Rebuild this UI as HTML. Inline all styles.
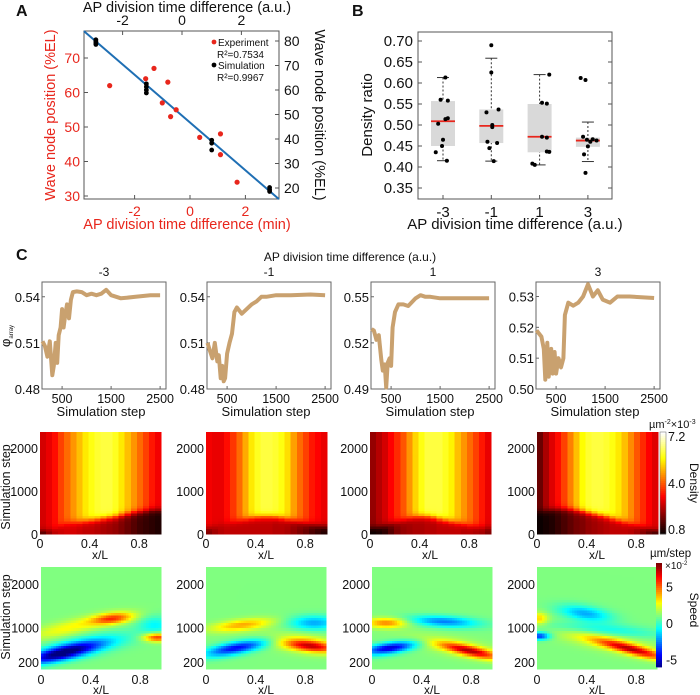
<!DOCTYPE html>
<html><head><meta charset="utf-8"><style>
html,body{margin:0;padding:0;background:#fff;}
svg{display:block;font-family:"Liberation Sans",Arial,sans-serif;}
</style></head><body>
<svg id="fig" width="700" height="695" viewBox="0 0 700 695" xmlns="http://www.w3.org/2000/svg"></svg>
<script>
// ---------- Panel A data ----------
const expX = [-2.9,-1.6,-1.3,-0.8,-1.0,-0.5,-0.7,0.35,1.1,1.1,1.7];
const expY = [62,64,67,63,57,55,53,47,48,42,34];
const simX = [-2.9,-2.9,-2.9,-2.9,-1.2,-1.2,-1.2,-1.2,1.0,1.0,1.0,2.95,2.95,2.95];
const simY = [80.5,79.8,79.2,78.6,62.5,61.3,60,58.8,39.5,38.3,35.5,20.2,19.3,18.6];
const fitCoef = [51.3,-6.92];
const aLeftTicks = [30,40,50,60,70];
const aRightTicks = [20,30,40,50,60,70,80];
const aBottomTicks = [-2,0,2];
const aTopTicks = [-2,0,2];
// ---------- Panel B data ----------
const bCats = ["-3","-1","1","3"];
const bQ1 = [0.450,0.457,0.435,0.448];
const bQ3 = [0.557,0.537,0.550,0.470];
const bMed = [0.509,0.498,0.472,0.463];
const bLo = [0.415,0.414,0.405,0.413];
const bHi = [0.613,0.659,0.620,0.507];
const bPts = [
 [0.613,0.560,0.558,0.516,0.514,0.503,0.465,0.450,0.435,0.415],
 [0.690,0.625,0.537,0.530,0.500,0.495,0.460,0.457,0.445,0.414],
 [0.620,0.553,0.551,0.472,0.470,0.437,0.436,0.408,0.405],
 [0.612,0.607,0.472,0.466,0.465,0.463,0.460,0.449,0.430,0.386]];
const bJit = [
 [0.05,-0.05,0.1,0.1,0.05,-0.1,0.0,-0.02,-0.15,0.08],
 [0.0,0.0,0.15,-0.1,0.02,0.02,-0.08,0.12,-0.04,0.05],
 [0.2,0.05,0.15,0.05,0.15,0.15,0.2,-0.15,-0.1],
 [-0.15,-0.05,-0.1,0.1,-0.02,0.18,0.05,0.0,-0.08,-0.05]];
const bTicks = [0.35,0.40,0.45,0.50,0.55,0.60,0.65,0.70];
// ---------- Panel C line data ----------
const lineTitles = ["-3","-1","1","3"];
const l1S = [100,150,200,250,300,330,370,400,430,470,500,530,560,600,640,680,720,800,900,1000,1100,1200,1300,1400,1500,1700,2000,2300,2500];
const l1V = [0.511,0.508,0.501,0.511,0.489,0.495,0.510,0.497,0.515,0.520,0.532,0.520,0.527,0.535,0.526,0.538,0.543,0.5435,0.543,0.541,0.542,0.541,0.542,0.5445,0.541,0.539,0.540,0.541,0.541];
const l2S = [100,150,200,250,300,330,370,400,430,460,500,550,600,650,700,800,900,1000,1100,1200,1300,1500,1800,2200,2500];
const l2V = [0.510,0.505,0.500,0.510,0.498,0.502,0.487,0.495,0.485,0.487,0.503,0.510,0.516,0.530,0.533,0.529,0.532,0.535,0.537,0.540,0.540,0.541,0.541,0.5415,0.541];
const l3S = [100,150,200,250,300,330,370,400,430,470,500,530,580,650,750,850,1000,1100,1200,1300,1500,1800,2200,2500];
const l3V = [0.529,0.528,0.522,0.525,0.509,0.502,0.506,0.491,0.507,0.510,0.505,0.530,0.540,0.545,0.545,0.544,0.549,0.551,0.550,0.550,0.549,0.549,0.549,0.549];
const l4S = [100,200,250,280,320,350,400,430,470,500,550,600,650,680,750,850,950,1050,1150,1250,1350,1450,1600,1750,2000,2500];
const l4V = [0.519,0.517,0.513,0.503,0.515,0.504,0.513,0.505,0.512,0.505,0.510,0.507,0.510,0.524,0.528,0.527,0.528,0.530,0.534,0.530,0.532,0.529,0.528,0.530,0.530,0.5295];
const lYTicks = [[0.48,0.51,0.54],[0.48,0.51,0.54],[0.49,0.52,0.55],[0.50,0.51,0.52,0.53]];
const lYMin = [0.48,0.48,0.49,0.50];
const lYMax = [0.5496,0.5496,0.5596,0.5347];
const lXTicks = [500,1500,2500];
// ---------- Density heatmaps (20 columns along x/L) ----------
const d1Above=[2.8,3.0,3.3,3.8,4.2,4.6,5.0,5.4,5.7,5.9,6.0,6.0,5.8,5.4,5.0,4.6,4.2,3.8,3.4,3.1];
const d1Front=[60,90,120,200,250,270,280,300,320,340,360,380,400,430,460,490,510,530,550,550];
const d1Below=[1.2,2.0,2.5,2.7,2.8,2.8,2.7,2.6,2.6,2.5,2.4,2.3,2.2,2.0,1.8,1.6,1.4,1.3,1.2,1.1];
const d2Above=[3.1,3.0,3.0,3.3,3.7,4.2,4.8,5.4,5.8,6.0,6.0,5.9,5.7,5.3,4.7,4.2,3.8,3.4,3.2,3.0];
const d2Front=[150,180,220,250,280,310,340,370,390,400,400,390,370,340,310,280,250,220,200,180];
const d2Below=[2.0,2.3,2.5,2.6,2.6,2.6,2.6,2.6,2.6,2.6,2.6,2.5,2.5,2.4,2.2,2.0,1.8,1.5,1.3,1.1];
const d3Above=[2.2,2.5,2.8,3.2,3.6,4.0,4.6,5.2,5.7,6.0,6.0,6.0,5.8,5.5,5.0,4.6,4.2,3.8,3.4,3.0];
const d3Front=[150,170,200,240,280,320,360,390,400,400,380,350,320,290,260,230,200,180,160,150];
const d3Below=[0.9,1.0,1.2,1.6,2.0,2.2,2.3,2.4,2.4,2.5,2.5,2.6,2.6,2.6,2.6,2.5,2.5,2.4,2.3,2.0];
const d4Above=[1.8,2.4,2.9,3.3,3.8,4.4,5.0,5.6,5.9,6.0,6.0,5.9,5.7,5.4,5.0,4.5,4.0,3.6,3.2,2.9];
const d4Front=[520,540,560,570,570,560,540,520,490,460,430,400,360,320,280,240,200,160,120,80];
const d4Below=[0.9,1.0,1.1,1.3,1.5,1.7,1.9,2.0,2.2,2.3,2.4,2.5,2.6,2.6,2.6,2.5,2.3,2.0,1.6,1.2];
const densTicks=[0,1000,2000];
const densBarTicks=[0.8,4.0,7.2];
// ---------- Speed heatmaps: blobs [x, t, amp(x1e-2), sx, st, slope] ----------
const s1Blobs=[[0.15,380,-5,0.2,110,600],[0.35,560,-2.5,0.25,150,500],[0.6,1200,3.5,0.12,90,300],[0.25,1000,1.5,0.25,120,600],[0.97,770,4,0.08,70,0],[0.95,1050,-1.5,0.1,150,0]];
const s2Blobs=[[0.25,520,-4.5,0.18,100,500],[0.3,1050,2.5,0.18,90,300],[0.9,1100,-2.5,0.15,120,0],[0.88,560,4,0.15,90,-300],[0.8,650,1.5,0.2,150,-300]];
const s3Blobs=[[0.12,1100,3,0.12,80,0],[0.15,520,-5,0.15,90,400],[0.6,1130,-3,0.2,90,-150],[0.82,450,4.5,0.17,80,-600],[0.7,550,1.2,0.25,140,-500]];
const s4Blobs=[[0.4,1320,-2.5,0.15,120,-400],[0.02,800,-4,0.06,60,0],[0.02,1200,2,0.05,100,0],[0.8,480,4.5,0.2,80,-700],[0.55,700,1.5,0.3,150,-600],[0.5,950,-1.5,0.35,100,-200]];
const speedTicks=[200,1000,2000];
const speedBarTicks=[-5,0,5];

const NS="http://www.w3.org/2000/svg";
const svg=document.getElementById('fig');
function el(tag,attrs,parent,text){const e=document.createElementNS(NS,tag);for(const k in attrs)e.setAttribute(k,attrs[k]);if(text!==undefined)e.textContent=text;(parent||svg).appendChild(e);return e;}
function txt(x,y,s,size,opts,parent){opts=opts||{};const a={x:x,y:y,'font-size':size,fill:opts.fill||'#111','text-anchor':opts.anchor||'middle'};if(opts.rot)a.transform='rotate('+opts.rot+' '+x+' '+y+')';if(opts.weight)a['font-weight']=opts.weight;const t=el('text',a,parent,s);return t;}
const clamp=v=>Math.max(0,Math.min(1,v));
function rgb(c){return 'rgb('+c.map(v=>Math.round(v*255)).join(',')+')';}
function hot(t){t=clamp(t);return [clamp(t/0.375),clamp((t-0.375)/0.375),clamp((t-0.75)/0.25)];}
function jet(t){t=clamp(t);return [clamp(1.5-Math.abs(4*t-3)),clamp(1.5-Math.abs(4*t-2)),clamp(1.5-Math.abs(4*t-1))];}

// ================= Panel A =================
txt(16,16,'A',16,{weight:'bold',anchor:'start',name:'panel-label-a'});
const gA=el('g',{});
const AX0=84,AX1=279,AY0=31,AY1=199;
const axMin=v=>190+27.7*v, ayL=v=>196-3.45*(v-30), axAU=v=>182+29.7*v, ayR=v=>41+2.45*(80-v);
const aBox=el('rect',{x:AX0,y:AY0,width:AX1-AX0,height:AY1-AY0,fill:'none',stroke:'#555','stroke-width':1},gA);

aLeftTicks.forEach(v=>{el('line',{x1:AX0,x2:AX0+4,y1:ayL(v),y2:ayL(v),stroke:'#555'},gA);txt(AX0-4,ayL(v)+5,String(v),14,{fill:'#e8261c',anchor:'end',name:'y-left-tick'},gA);});
aRightTicks.forEach(v=>{el('line',{x1:AX1-4,x2:AX1,y1:ayR(v),y2:ayR(v),stroke:'#555'},gA);txt(AX1+5,ayR(v)+5,String(v),14,{anchor:'start',name:'y-right-tick'},gA);});
aBottomTicks.forEach(v=>{el('line',{x1:axMin(v),x2:axMin(v),y1:AY1,y2:AY1-4,stroke:'#555'},gA);txt(axMin(v),AY1+17,String(v),14,{fill:'#e8261c',name:'x-bottom-tick'},gA);});
aTopTicks.forEach(v=>{el('line',{x1:axAU(v),x2:axAU(v),y1:AY0,y2:AY0+4,stroke:'#555'},gA);txt(axAU(v),AY0-6,String(v),14,{name:'x-top-tick'},gA);});
txt(187,12,'AP division time difference (a.u.)',14.5,{name:'x-top-title'},gA);
txt(187,229,'AP division time difference (min)',14.5,{fill:'#e8261c',name:'x-bottom-title'},gA);
txt(55,115,'Wave node position (%EL)',14.5,{fill:'#e8261c',rot:-90,name:'y-left-title'},gA);
txt(315,115,'Wave node position (%EL)',14.5,{rot:90,name:'y-right-title'},gA);
const fx0=-3.83,fx1=3.21;
const fit=el('line',{x1:axMin(fx0),y1:ayL(fitCoef[0]+fitCoef[1]*fx0),x2:axMin(fx1),y2:ayL(fitCoef[0]+fitCoef[1]*fx1),stroke:'#1f6fb4','stroke-width':2},gA);

expX.forEach((x,i)=>{const c=el('circle',{cx:axMin(x),cy:ayL(expY[i]),r:2.6,fill:'#e8261c'},gA);});
simX.forEach((x,i)=>{const c=el('circle',{cx:axAU(x),cy:ayR(simY[i]),r:2.4,fill:'#000'},gA);});
const lg=el('g',{},gA);
el('circle',{cx:214,cy:42,r:2.4,fill:'#e8261c'},lg);txt(218,46,'Experiment',10,{anchor:'start',name:'legend-experiment'},lg);
txt(217,58,'R²=0.7534',10,{anchor:'start',name:'legend-r2-exp'},lg);
el('circle',{cx:214,cy:65,r:2.4,fill:'#000'},lg);txt(218,69,'Simulation',10,{anchor:'start',name:'legend-simulation'},lg);
txt(217,81,'R²=0.9967',10,{anchor:'start',name:'legend-r2-sim'},lg);

// ================= Panel B =================
txt(352,16,'B',16,{weight:'bold',anchor:'start',name:'panel-label-b'});
const gB=el('g',{});
const BX0=418,BX1=612,BY0=32,BY1=199;
const bx=i=>443+48.3*i, by=v=>41+(0.70-v)/0.05*21;
bTicks.forEach(v=>{el('line',{x1:BX0,x2:BX0+4,y1:by(v),y2:by(v),stroke:'#555'},gB);el('line',{x1:BX1-4,x2:BX1,y1:by(v),y2:by(v),stroke:'#555'},gB);txt(BX0-5,by(v)+5,v.toFixed(2),15,{anchor:'end',name:'y-tick-b'},gB);});
bCats.forEach((c,i)=>{
 const g=el('g',{},gB);
 el('line',{x1:bx(i),x2:bx(i),y1:by(bHi[i]),y2:by(bLo[i]),stroke:'#333','stroke-dasharray':'2,2'},g);
 el('line',{x1:bx(i)-6,x2:bx(i)+6,y1:by(bHi[i]),y2:by(bHi[i]),stroke:'#333'},g);
 el('line',{x1:bx(i)-6,x2:bx(i)+6,y1:by(bLo[i]),y2:by(bLo[i]),stroke:'#333'},g);
 el('rect',{x:bx(i)-12,y:by(bQ3[i]),width:24,height:by(bQ1[i])-by(bQ3[i]),fill:'#d9d9d9'},g);
 el('line',{x1:bx(i)-12,x2:bx(i)+12,y1:by(bMed[i]),y2:by(bMed[i]),stroke:'#e8261c','stroke-width':1.8},g);
 bPts[i].forEach((v,j)=>{const p=el('circle',{cx:bx(i+bJit[i][j]),cy:by(v),r:2,fill:'#000'},g);});
 el('line',{x1:bx(i),x2:bx(i),y1:BY1,y2:BY1-4,stroke:'#555'},gB);
 txt(bx(i),BY1+18,c,15,{name:'x-tick-b'},gB);
});
el('rect',{x:BX0,y:BY0,width:BX1-BX0,height:BY1-BY0,fill:'none',stroke:'#555'},gB);
txt(372,115,'Density ratio',15,{rot:-90,name:'y-title-b'},gB);
txt(515,229,'AP division time difference (a.u.)',15,{name:'x-title-b'},gB);

// ================= Panel C =================
txt(16,260,'C',16,{weight:'bold',anchor:'start',name:'panel-label-c'});
txt(350,261,'AP division time difference (a.u.)',12,{name:'panel-c-title'});
const colX=[42,207,371,536], colW=124;
const lS=[l1S,l2S,l3S,l4S], lV=[l1V,l2V,l3V,l4V];
const LY0=282,LY1=389;
for(let k=0;k<4;k++){
 const g=el('g',{});
 const X=v=>colX[k]+(v-90)/(2620-90)*colW, Y=v=>LY1-(v-lYMin[k])/(lYMax[k]-lYMin[k])*(LY1-LY0);
 el('rect',{x:colX[k],y:LY0,width:colW,height:LY1-LY0,fill:'none',stroke:'#666'},g);
 txt(colX[k]+colW/2,LY0-6,lineTitles[k],12,{name:'column-title'},g);
 lYTicks[k].forEach(v=>{el('line',{x1:colX[k],x2:colX[k]+3,y1:Y(v),y2:Y(v),stroke:'#666'},g);txt(colX[k]-2,Y(v)+5,v.toFixed(2),13,{anchor:'end',name:'y-tick'},g);});
 lXTicks.forEach(v=>{el('line',{x1:X(v),x2:X(v),y1:LY1,y2:LY1-3,stroke:'#666'},g);txt(X(v),LY1+14,String(v),12.5,{name:'x-tick'},g);});
 txt(colX[k]+colW/2-3,LY1+27,'Simulation step',13,{name:'x-title'},g);
 const pts=lS[k].map((s,i)=>X(s).toFixed(1)+','+Y(lV[k][i]).toFixed(1)).join(' ');
 const pl=el('polyline',{points:pts,fill:'none',stroke:'#c9a16f','stroke-width':4,'stroke-linejoin':'round'},g);
 
}
const phi=el('text',{x:10,y:336,'font-size':13,fill:'#111',transform:'rotate(-90 10 336)','text-anchor':'middle'});

phi.textContent='φ';
const phiSub=el('tspan',{'font-size':6,dy:3},phi,'array');

// density heatmaps
const dA=[d1Above,d2Above,d3Above,d4Above], dF=[d1Front,d2Front,d3Front,d4Front], dB=[d1Below,d2Below,d3Below,d4Below];
const mapX=[40,206,370,537], mapW=121;
const DY0=432,DY1=534,DTMAX=2370;
const NR=40;
for(let k=0;k<4;k++){
 const g=el('g',{'shape-rendering':'crispEdges'});
 const nc=dA[k].length, cw=mapW/nc, rh=(DY1-DY0)/NR;
 for(let c=0;c<nc;c++)for(let r=0;r<NR;r++){
  const t=DTMAX*(1-(r+0.5)/NR);
  const s=1/(1+Math.exp(-(t-dF[k][c])/40));
  const v=dB[k][c]+(dA[k][c]-dB[k][c])*s;
  const cell=el('rect',{x:(mapX[k]+c*cw).toFixed(2),y:(DY0+r*rh).toFixed(2),width:(cw+0.4).toFixed(2),height:(rh+0.4).toFixed(2),fill:rgb(hot((v-0.8)/6.4))},g);
  
 }
 const TY=t=>DY1-t/DTMAX*(DY1-DY0);
 densTicks.forEach(t=>txt(mapX[k]-2,TY(t)+5,String(t),12.5,{anchor:'end',name:'y-tick'}));
 [0,0.4,0.8].forEach(x=>txt(mapX[k]+x*124,DY1+14,String(x),12.5,{name:'x-tick'}));
 txt(mapX[k]+60,DY1+25,'x/L',12,{name:'x-title'});
}
txt(10,487,'Simulation step',12.5,{rot:-90,name:'y-title-density'});
// density colorbar
const cbD=el('g',{});
for(let i=0;i<50;i++){const t=1-i/50;el('rect',{x:660,y:DY0+i*(DY1-DY0)/50,width:6,height:(DY1-DY0)/50+0.4,fill:rgb(hot(t))},cbD);}
el('rect',{x:660,y:DY0,width:6,height:DY1-DY0,fill:'none',stroke:'#666','stroke-width':0.5},cbD);
densBarTicks.forEach(v=>txt(668,DY1-(v-0.8)/6.4*(DY1-DY0)+(v===7.2?9:v===0.8?0:5),v.toFixed(1),12.5,{anchor:'start',name:'colorbar-tick'},cbD));
txt(690,483,'Density',12,{rot:90,name:'colorbar-title-density'},cbD);
const unitD=el('text',{x:649,y:428,'font-size':11,fill:'#111'},cbD);

unitD.textContent='µm';
el('tspan',{dy:-4,'font-size':7},unitD,'-2');
el('tspan',{dy:4},unitD,'×10');
el('tspan',{dy:-4,'font-size':7},unitD,'-3');

// speed heatmaps
const sB=[s1Blobs,s2Blobs,s3Blobs,s4Blobs];
const smapX=[41,206,372,537];
const SY0=567,SY1=669,STMIN=40,STMAX=2390,SNC=48,SNR=40;
for(let k=0;k<4;k++){
 const g=el('g',{'shape-rendering':'crispEdges'});
 const cw=120/SNC, rh=(SY1-SY0)/SNR;
 for(let c=0;c<SNC;c++)for(let r=0;r<SNR;r++){
  const x=(c+0.5)/SNC, t=STMIN+(STMAX-STMIN)*(1-(r+0.5)/SNR);
  let v=0;
  sB[k].forEach(b=>{const tc=b[1]+b[5]*(x-b[0]);v+=b[2]*Math.exp(-((x-b[0])**2)/(2*b[3]*b[3])-((t-tc)**2)/(2*b[4]*b[4]));});
  const cell=el('rect',{x:(smapX[k]+c*cw).toFixed(2),y:(SY0+r*rh).toFixed(2),width:(cw+0.4).toFixed(2),height:(rh+0.4).toFixed(2),fill:rgb(jet((v+6)/12))},g);
  
 }
 const TY=t=>SY1-(t-STMIN)/(STMAX-STMIN)*(SY1-SY0);
 speedTicks.forEach(t=>txt(smapX[k]-2,TY(t)+5,String(t),12.5,{anchor:'end',name:'y-tick'}));
 [0,0.4,0.8].forEach(x=>txt(smapX[k]+x*124,SY1+15,String(x),12.5,{name:'x-tick'}));
 txt(smapX[k]+60,SY1+25,'x/L',12,{name:'x-title'});
}
txt(10,617,'Simulation step',12.5,{rot:-90,name:'y-title-speed'});
const cbS=el('g',{});
const CY0=563,CY1=667;
for(let i=0;i<50;i++){const t=1-i/50;el('rect',{x:656,y:CY0+i*(CY1-CY0)/50,width:6,height:(CY1-CY0)/50+0.4,fill:rgb(jet(t))},cbS);}
speedBarTicks.forEach(v=>txt(666,623-v*7.3+5,String(v),12.5,{anchor:'start',name:'colorbar-tick'},cbS));
txt(690,610,'Speed',12,{rot:90,name:'colorbar-title-speed'},cbS);
txt(650,557,'µm/step',11.5,{anchor:'start',name:'colorbar-unit-speed'},cbS);
const ex=el('text',{x:665,y:569,'font-size':10,fill:'#111'},cbS);

ex.textContent='×10';
el('tspan',{dy:-4,'font-size':6},ex,'-2');
</script>
</body></html>
